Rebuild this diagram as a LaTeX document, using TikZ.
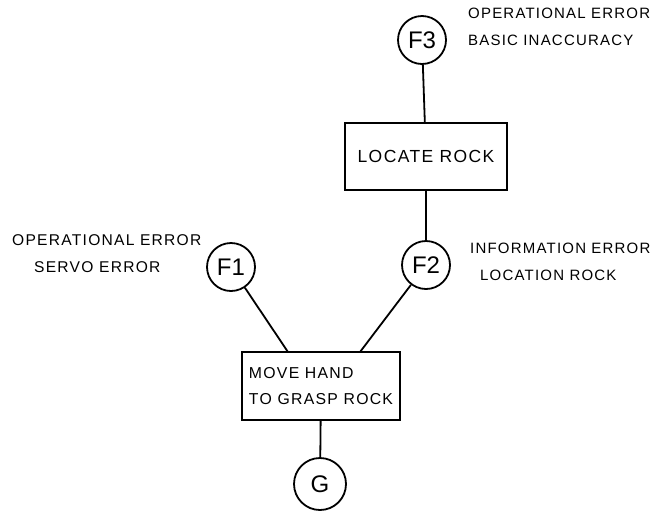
\documentclass[tikz,border=0pt]{standalone}
\usepackage{fontspec}
\setmainfont{Liberation Sans}
\newfontfamily\handlettering[LetterSpace=8]{Liberation Sans}
\begin{document}
\begin{tikzpicture}[x=1pt,y=-1pt,
  ink/.style={line width=1.8pt,black},
  fault/.style={circle,draw,ink,minimum size=48pt,inner sep=0pt,font=\fontsize{24}{24}\selectfont},
  task/.style={draw,ink,inner sep=0pt,font=\handlettering\fontsize{17.5}{26}\selectfont},
  note/.style={align=left,font=\handlettering\fontsize{15}{27}\selectfont,inner sep=0pt}]
\useasboundingbox (0,0) rectangle (655,512);
% events
\node[fault] (F3) at (422,40) {F3};
\node[fault] (F2) at (426,265) {F2};
\node[fault] (F1) at (231,267) {F1};
\node[fault,minimum size=52pt] (G) at (320,484) {G};
% tasks
\node[task,minimum width=162pt,minimum height=67pt] (lr) at (426,156.5) {LOCATE ROCK};
\node[task,minimum width=158pt,minimum height=68pt,align=left,
  font=\handlettering\fontsize{15.8}{26}\selectfont] (mh) at (321,386) {MOVE HAND\\TO GRASP ROCK};
% notes
\node[note,anchor=west] (n3) at (468,27) {OPERATIONAL ERROR\\BASIC INACCURACY};
\node[note,anchor=west,font=\handlettering\fontsize{15.6}{27}\selectfont] (n1) at (12,254) {OPERATIONAL ERROR\\\hspace*{22pt}SERVO ERROR};
\node[note,anchor=west] (n2) at (470,262) {INFORMATION ERROR\\\hspace*{10pt}LOCATION ROCK};
% connectors
\coordinate (t1) at (288,352);
\coordinate (t2) at (360,352);
\draw[ink] (F3) -- (lr);
\draw[ink] (lr) -- (F2);
\draw[ink] (F1) -- (t1);
\draw[ink] (F2) -- (t2);
\draw[ink] (mh) -- (G);
\end{tikzpicture}
\end{document}
